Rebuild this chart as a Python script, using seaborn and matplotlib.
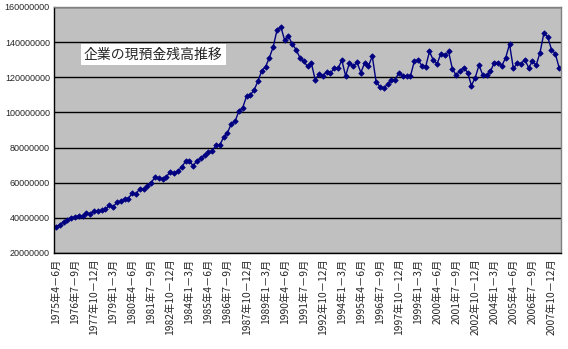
import matplotlib
matplotlib.use("Agg")
import matplotlib.pyplot as plt
import seaborn as sns
import pandas as pd
import numpy as np

title = "企業の現預金残高推移"
start_year = 1975
start_quarter = 2  # 4-6月
quarter_names = ["1－3月", "4－6月", "7－9月", "10－12月"]

# 現預金残高 (百万単位で読み取り -> 値 x 1,000,000)
values_m = [
    34.9, 36.0, 37.9, 38.9, 40.2, 40.4, 41.3, 41.0, 42.7, 42.3,
    43.8, 43.8, 44.4, 44.8, 47.3, 46.1, 48.9, 49.4, 51.0, 51.0,
    54.1, 53.5, 56.7, 56.2, 58.1, 60.0, 63.2, 62.7, 62.3, 63.4,
    66.3, 65.5, 66.7, 68.8, 72.2, 72.6, 69.5, 72.6, 73.9, 75.8,
    77.5, 77.9, 81.5, 81.5, 85.9, 88.4, 93.5, 94.9, 100.8, 102.7,
    109.1, 109.9, 112.8, 117.8, 123.7, 126.0, 131.2, 137.3, 146.9, 148.8,
    141.1, 143.4, 138.9, 135.8, 131.2, 129.0, 126.3, 128.2, 118.7, 121.7,
    121.0, 122.9, 122.5, 125.0, 125.0, 129.7, 120.8, 128.2, 126.3, 128.5,
    122.7, 128.2, 126.5, 132.0, 117.3, 114.7, 113.9, 116.0, 118.7, 118.7,
    122.7, 120.6, 120.6, 120.6, 129.0, 129.7, 126.7, 126.1, 134.7, 129.7,
    127.8, 133.5, 132.4, 134.7, 124.8, 121.2, 123.8, 125.5, 122.7, 115.3,
    119.8, 126.9, 121.1, 121.1, 123.4, 128.4, 128.4, 126.7, 131.2, 138.9,
    125.0, 128.0, 127.6, 130.1, 125.5, 129.0, 127.0, 134.1, 145.0, 143.1,
    135.8, 133.5, 125.5,
]
values = [v * 1_000_000 for v in values_m]

# quarter category labels
labels = []
y, q = start_year, start_quarter
for _ in values:
    labels.append(f"{y}年{quarter_names[q - 1]}")
    q += 1
    if q > 4:
        q = 1
        y += 1

label_step = 5
y_ticks = [20000000, 40000000, 60000000, 80000000, 100000000, 120000000, 140000000, 160000000]

df = pd.DataFrame({"idx": np.arange(len(values)), "label": labels, "value": values})

sns.set_theme(style="white")
plt.rcParams["font.family"] = ["Noto Sans CJK JP", "DejaVu Sans"]

fig = plt.figure(figsize=(5.68, 3.49), dpi=100)
ax = fig.add_axes([54 / 568, 1 - 253 / 349, (561 - 54) / 568, (253 - 7) / 349])
ax.set_facecolor("#C0C0C0")

sns.lineplot(data=df, x="idx", y="value", ax=ax, color="#000080", linewidth=1.0,
             marker="D", markersize=2.8, markeredgecolor="#000080",
             markerfacecolor="#000080", markeredgewidth=0.5)

ax.set_xlim(-0.5, len(values) - 0.5)
ax.set_ylim(y_ticks[0], y_ticks[-1])
ax.set_yticks(y_ticks)
ax.set_yticklabels([str(t) for t in y_ticks], family="Liberation Sans", fontsize=6.5)
ax.yaxis.grid(True, color="black", linewidth=1.0)
ax.set_axisbelow(True)

major = list(range(0, len(values), label_step))
ax.set_xticks(major)
ax.set_xticklabels([labels[i] for i in major], rotation=90, fontsize=7.4,
                   family=["Noto Sans CJK JP", "DejaVu Sans"])
ax.set_xticks(np.arange(-0.5, len(values), 1.0), minor=True)
ax.tick_params(axis="x", which="major", length=0, pad=4)
ax.tick_params(axis="x", which="minor", direction="in", length=2.5, width=0.7, color="black")
ax.tick_params(axis="y", length=0, pad=3)

ax.set_xlabel("")
ax.set_ylabel("")
for s in ["left", "bottom"]:
    ax.spines[s].set_color("black")
    ax.spines[s].set_linewidth(1.0)
for s in ["top", "right"]:
    ax.spines[s].set_color("#808080")
    ax.spines[s].set_linewidth(1.0)

fig.text(84 / 568, 1 - 54.5 / 349, title, fontsize=10, va="center", ha="left",
         family=["Noto Sans CJK JP", "DejaVu Sans"],
         bbox=dict(facecolor="white", edgecolor="none", boxstyle="square,pad=0.25"))

fig.savefig("out.png", dpi=100, facecolor="white")
